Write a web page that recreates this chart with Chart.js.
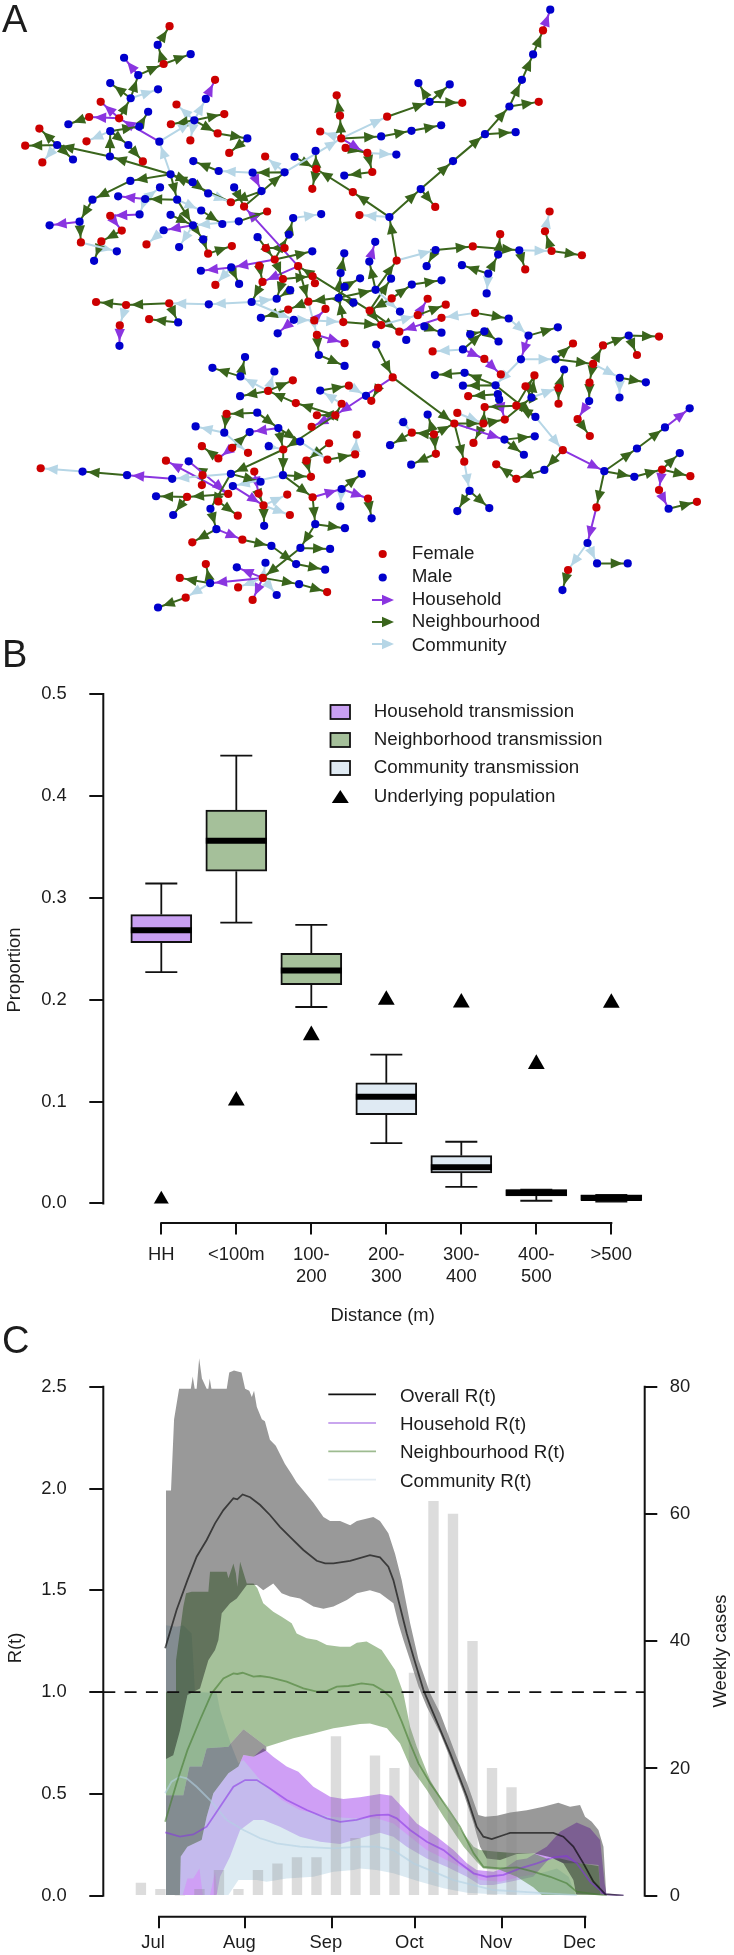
<!DOCTYPE html>
<html>
<head>
<meta charset="utf-8">
<title>Transmission tree, distance and R(t)</title>
<script src="https://cdn.jsdelivr.net/npm/chart.js@4"></script>
<style>
  html, body { margin: 0; background: #fff; }
  canvas { position: absolute; left: 0; }
</style>
</head>
<body>
<canvas id="panelA" width="734" height="660" style="top:0px"></canvas>
<canvas id="panelB" width="734" height="705" style="top:630px"></canvas>
<canvas id="panelC" width="734" height="655" style="top:1300px"></canvas>
<script>
// ---- panel A: transmission tree, in map units ----
const femaleNodes = [
  [502,67],[484,182],[640,230],[293,297],[523,305],[668,334],[258,343],[349,347],[506,365],[648,393],[107,378],[250,417],
  [565,414],[64,430],[116,481],[683,452],[421,478],[792,463],[1009,277],[1019,339],[959,387],[1023,408],[1036,437],[947,501],
  [935,561],[1058,571],[1078,641],[688,602],[728,615],[798,630],[322,643],[357,688],[295,721],[233,724],[432,730],[619,758],
  [691,735],[794,741],[851,741],[821,776],[774,795],[892,796],[846,835],[784,844],[641,853],[936,827],[943,848],[862,928],
  [923,904],[975,926],[941,961],[1029,966],[279,905],[370,914],[501,909],[351,976],[440,957],
  [1635,80],[1162,342],[1390,300],[1622,297],[1102,452],[1117,510],[1308,616],[1655,630],[1641,690],[1505,699],[1422,736],
  [1661,750],[1753,763],[1191,779],[1581,806],[1176,894],[1285,895],[1340,913],[1255,945],[1327,953],[1429,938],[1109,931],[1144,975],
  [949,1005],[1033,1030],[876,1143],[801,1175],[1046,1159],[885,1212],[1024,1214],[949,1249],[1005,1249],[675,1245],[933,1284],
  [1070,1308],[986,1334],[847,1353],[600,1343],[692,1348],[740,1363],[650,1380],[1065,1368],[981,1384],[917,1387],[491,1387],
  [759,1420],[111,1410],[602,1431],[931,1436],[600,1461],[680,1488],[772,1487],[859,1490],[936,1498],[1104,1502],[555,1497],
  [650,1511],[787,1523],[709,1554],[867,1552],[723,1627],[571,1635],[612,1701],[533,1743],[785,1743],[710,1772],[980,1786],
  [551,1803],[754,1810],
  [1199,995],[1300,1055],[1457,1078],[1507,1125],[1179,1134],[1135,1166],[1114,1205],[1726,1031],[1817,1037],[1987,1010],
  [1920,1066],[1787,1093],[1776,1150],[1609,1128],[1582,1161],[1682,1166],[1682,1214],[1554,1220],[1458,1224],[1519,1262],
  [1375,1242],[1454,1274],[1366,1274],[1740,1261],[1777,1312],[1237,1302],[1304,1307],[1424,1333],[1310,1366],[1396,1390],
  [1695,1355],[1493,1398],[1554,1442],[1996,1414],[2082,1434],[1987,1476],[2102,1512],[1797,1529],[1711,1719],[1408,1191]
];
const maleNodes = [
  [466,124],[566,152],[364,163],[407,216],[322,240],[467,259],[384,286],[612,288],[437,327],[195,365],[577,353],[410,372],
  [322,386],[738,408],[471,418],[377,428],[161,428],[321,463],[209,472],[574,477],[651,507],[505,517],[754,512],[851,511],
  [881,464],[945,446],[1032,521],[572,541],[383,537],[473,557],[698,557],[781,568],[619,575],[346,584],[428,592],[525,594],
  [268,594],[598,627],[411,639],[505,640],[712,660],[662,668],[573,672],[877,650],[962,638],[229,661],[138,672],[484,687],
  [864,700],[769,708],[604,715],[342,751],[531,738],[273,780],[935,751],[1032,757],[597,810],[689,800],[713,850],[1021,817],
  [1080,833],[1033,859],[868,869],[827,895],[1015,892],[1060,907],[751,905],[621,912],[779,953],[879,959],[528,967],
  [1657,17],[1605,153],[1571,230],[1257,240],[1352,244],[1291,297],[1533,311],[1326,368],[1236,385],[1144,402],[1459,395],
  [1552,389],[1190,457],[1362,477],[1264,562],[1169,647],[1126,722],[1108,782],[1309,747],[1563,748],[1499,761],[1282,796],
  [1389,793],[1469,819],[1464,879],[1174,834],[1237,852],[1327,839],[1127,868],[1201,934],[1275,979],[1531,955],[1680,982],
  [350,1038],[830,1000],[731,1072],[632,1105],[717,1131],[820,1116],[716,1191],[955,1066],[1033,1099],[959,1174],[1098,1190],
  [768,1241],[581,1283],[668,1302],[745,1300],[832,1288],[803,1343],[898,1329],[560,1389],[238,1420],[373,1431],[510,1442],
  [688,1427],[846,1431],[694,1464],[778,1451],[1085,1427],[1024,1473],[1020,1526],[461,1495],[513,1552],[626,1533],[789,1585],
  [944,1580],[1034,1592],[644,1595],[899,1652],[989,1655],[811,1646],[886,1701],[974,1718],[793,1697],[706,1711],[625,1759],
  [895,1762],[827,1795],[467,1833],
  [1129,1034],[1220,1020],[1327,998],[1414,1003],[1457,994],[1500,1025],[1591,1007],[1895,1007],[1392,1049],[1568,1079],
  [1673,1079],[1699,1110],[1868,1135],[1947,1149],[1867,1195],[1775,1206],[1307,1127],[1397,1120],[1392,1159],[1491,1158],
  [1498,1185],[1502,1201],[1600,1195],[1612,1254],[1285,1247],[1211,1270],[1171,1340],[1235,1399],[1518,1323],[1610,1313],
  [1577,1369],[1639,1415],[1412,1479],[1375,1540],[1472,1531],[2080,1228],[2005,1286],[1920,1350],[1821,1419],[1912,1436],
  [2050,1364],[2016,1533],[1770,1637],[1799,1699],[1892,1699],[1694,1780],[1115,1562]
];
const householdLinks = [
  [407,216,364,163],[349,347,293,297],[349,347,258,343],[471,418,349,347],[612,288,640,230],[229,661,138,672],[411,639,322,643],
  [322,643,357,688],[428,592,346,584],[573,672,484,687],[754,512,781,568],[821,776,689,800],[689,800,597,810],[892,796,784,844],
  [892,796,728,615],[941,961,975,926],[879,959,830,1000],[1023,408,1095,451],[351,976,350,1038],
  [1635,80,1657,17],[1108,782,1126,722],[1255,945,1285,895],[1327,953,1199,995],
  [949,1005,1033,1030],[1179,1134,1005,1249],[1005,1249,933,1284],[832,1288,745,1300],[692,1348,650,1380],[936,1498,1024,1473],
  [1024,1473,1104,1502],[644,1595,723,1627],[680,1488,491,1387],[560,1389,680,1488],[694,1464,787,1523],[510,1442,373,1431],
  [759,1420,772,1487],[785,1743,625,1759],[785,1743,706,1711],[785,1743,754,1810],
  [1392,1049,1457,1078],[1457,1078,1507,1125],[1591,1007,1568,1079],[1502,1201,1519,1262],[1775,1206,1740,1261],[1695,1355,1821,1419],
  [2005,1286,2080,1228],[1996,1414,1987,1476],[1987,1476,2016,1533],[1797,1529,1770,1637],[1366,1274,1518,1323]
];
const neighbourhoodLinks = [
  [484,182,466,124],[466,124,502,67],[407,216,484,182],[484,182,566,152],[384,286,407,216],[384,286,322,240],[349,347,384,286],
  [258,343,195,365],[410,372,437,327],[322,386,410,372],[321,463,322,386],[322,386,377,428],[377,428,421,478],[505,517,321,463],
  [321,463,161,428],[161,428,107,378],[161,428,64,430],[161,428,209,472],[577,353,668,334],[577,353,506,365],[577,353,648,393],
  [648,393,738,408],[738,408,683,452],[505,517,383,537],[383,537,268,594],[268,594,229,661],[229,661,233,724],[295,721,273,780],
  [357,688,295,721],[505,517,525,594],[525,594,428,592],[525,594,573,672],[598,627,662,668],[505,640,573,672],[573,672,604,715],
  [604,715,619,758],[619,758,691,735],[712,660,798,630],[505,517,572,541],[572,541,619,575],[688,602,505,517],[781,568,688,602],
  [698,557,728,615],[728,615,851,511],[851,511,754,512],[651,507,574,477],[1023,408,1019,339],[1019,339,1009,277],[1023,408,1144,402],
  [1036,437,1095,451],[881,464,947,501],[947,501,945,446],[947,501,935,561],[1058,571,947,501],[1169,647,1058,571],[1117,510,1032,521],
  [821,776,864,700],[864,700,877,650],[821,776,935,751],[769,708,821,776],[851,741,794,741],[689,800,713,850],[821,776,846,835],
  [774,795,784,844],[846,835,936,827],[784,844,751,905],[846,835,827,895],[892,796,923,904],[923,904,862,928],[1015,892,923,904],
  [1109,931,892,796],[868,869,827,895],[862,928,779,953],[501,909,370,914],[370,914,279,905],[501,909,528,967],[528,967,440,957],
  [1015,892,1021,817],[1021,817,1032,757],[1033,859,1080,833],[1015,892,1033,859],[1029,966,1015,892],[1029,966,1144,975],[1060,907,1015,892],
  [1015,892,1127,868],
  [1144,402,1236,385],[1236,385,1326,368],[1162,342,1291,297],[1291,297,1257,240],[1291,297,1352,244],[1291,297,1390,300],[1102,452,1117,510],
  [1169,647,1264,562],[1264,562,1362,477],[1362,477,1459,395],[1459,395,1533,311],[1533,311,1571,230],[1571,230,1605,153],[1605,153,1635,80],
  [1264,562,1308,616],[1459,395,1552,389],[1533,311,1622,297],[1191,779,1169,647],[1309,747,1282,796],[1309,747,1422,736],[1422,736,1563,748],
  [1499,761,1505,699],[1469,819,1499,761],[1469,819,1389,793],[1563,748,1581,806],[1661,750,1753,763],[1661,750,1641,690],[1127,868,1108,782],
  [1127,868,1191,779],[1109,931,1174,834],[1176,894,1109,931],[1176,894,1237,852],[1237,852,1327,839],[1255,945,1340,913],[1429,938,1531,955],
  [1109,931,1199,995],[1109,931,1144,975],[1275,979,1327,998],
  [717,1131,632,1105],[717,1131,731,1072],[801,1175,876,1143],[801,1175,716,1191],[885,1212,801,1175],[1005,1249,885,1212],[1005,1249,1024,1214],
  [1005,1249,949,1249],[955,1066,1033,1099],[949,1005,955,1066],[959,1174,1046,1159],[1005,1249,847,1353],[847,1353,688,1427],[847,1353,846,1431],
  [832,1288,847,1353],[768,1241,675,1245],[675,1245,668,1302],[768,1241,832,1288],[832,1288,898,1329],[981,1384,1065,1368],[986,1334,917,1387],
  [917,1387,931,1436],[846,1431,931,1436],[846,1431,936,1498],[692,1348,745,1300],[650,1380,600,1343],[1024,1473,1085,1427],[936,1498,944,1580],
  [944,1580,1034,1592],[944,1580,899,1652],[899,1652,989,1655],[899,1652,785,1743],[723,1627,811,1646],[811,1646,886,1701],[886,1701,974,1718],
  [644,1595,571,1635],[626,1533,644,1595],[373,1431,238,1420],[688,1427,778,1451],[688,1427,626,1533],[772,1487,787,1523],[787,1523,789,1585],
  [680,1488,555,1497],[555,1497,461,1495],[555,1497,513,1552],[602,1431,600,1461],[650,1511,709,1554],[625,1759,533,1743],[625,1759,612,1701],
  [551,1803,467,1833],[785,1743,895,1762],[895,1762,980,1786],
  [1129,1034,1179,1134],[1179,1134,1366,1274],[1135,1166,1114,1205],[1397,1120,1307,1127],[1491,1158,1392,1159],[1491,1158,1397,1120],
  [1498,1185,1408,1191],[1591,1007,1680,982],[1673,1079,1787,1093],[1787,1093,1817,1037],[1817,1037,1895,1007],[1895,1007,1987,1010],
  [1895,1007,1920,1066],[1673,1079,1726,1031],[1868,1135,1947,1149],[1787,1093,1776,1150],[1776,1150,1775,1206],[1740,1261,1777,1312],
  [1682,1166,1699,1110],[1682,1166,1682,1214],[1600,1195,1609,1128],[1600,1195,1582,1161],[1554,1220,1609,1128],[1554,1220,1458,1224],
  [1519,1262,1600,1195],[1491,1158,1612,1254],[1612,1254,1554,1220],[1695,1355,1639,1415],[1639,1415,1554,1442],[1554,1442,1493,1398],
  [1821,1419,1920,1350],[1920,1350,2005,1286],[1821,1419,1912,1436],[1912,1436,1996,1414],[1996,1414,2050,1364],[1996,1414,2082,1434],
  [2016,1533,2102,1512],[1821,1419,1797,1529],[1799,1699,1892,1699],[1711,1719,1694,1780],[1366,1274,1396,1390],[1412,1479,1375,1540],
  [1412,1479,1472,1531],[1518,1323,1610,1313],[1518,1323,1577,1369],[1366,1274,1454,1274],[1454,1274,1519,1262],[1454,1274,1424,1333],
  [1454,1274,1458,1224],[1304,1307,1285,1247],[1304,1307,1366,1274],[1237,1302,1171,1340],[1304,1307,1237,1302],[1304,1307,1310,1366],
  [1310,1366,1235,1399],[1392,1049,1457,994],[1414,1003,1457,994],[1457,994,1500,1025],[1104,1502,1115,1562]
];
const communityLinks = [
  [384,286,467,259],[322,386,250,417],[161,428,116,481],[505,517,471,418],[471,418,577,353],[577,353,523,305],[577,353,612,288],
  [577,353,565,414],[233,724,342,751],[428,592,473,557],[428,592,411,639],[525,594,598,627],[484,687,432,730],[573,672,531,738],
  [712,660,573,672],[619,575,688,602],[754,512,651,507],[851,511,792,463],[851,511,1023,408],[1023,408,959,387],[1023,408,1162,342],
  [877,650,962,638],[689,800,641,853],[751,905,827,895],[751,905,621,912],[621,912,501,909],[370,914,351,976],[941,961,1029,966],
  [879,959,941,961],[751,905,879,959],[923,904,949,1005],
  [1102,452,1190,457],[1169,647,1078,641],[1191,779,1309,747],[1469,819,1464,879],[1563,748,1661,750],[1641,690,1655,630],[1127,868,1201,934],
  [1429,938,1327,953],[1531,955,1591,1007],[1144,975,1255,945],
  [801,1175,717,1131],[801,1175,820,1116],[1024,1214,959,1174],[1046,1159,1098,1190],[898,1329,981,1384],[1065,1368,1070,1308],
  [846,1431,694,1464],[668,1302,581,1283],[668,1302,740,1363],[803,1343,847,1353],[688,1427,510,1442],[238,1420,111,1410],[1024,1473,1020,1526],
  [787,1523,859,1490],[787,1523,867,1552],[625,1759,551,1803],[785,1743,793,1697],[785,1743,710,1772],[785,1743,827,1795],
  [1392,1049,1300,1055],[1568,1079,1491,1158],[1568,1079,1673,1079],[1787,1093,1868,1135],[1868,1135,1867,1195],[1600,1195,1682,1166],
  [1612,1254,1695,1355],[1770,1637,1711,1719],[1770,1637,1799,1699],[1396,1390,1412,1479],[1375,1242,1454,1274],[1211,1270,1237,1302]
];

// ---- panel B: share of pairs by distance ----
const distanceLabels = ['HH', '<100m', ['100-', '200'], ['200-', '300'], ['300-', '400'], ['400-', '500'], '>500'];
const boxLower = [0.256, 0.326, 0.2147, 0.0872, 0.0298, 0.0074, 0.0031];
const boxUpper = [0.2835, 0.386, 0.2454, 0.1183, 0.0469, 0.0136, 0.0083];
const boxMedian = [0.268, 0.356, 0.2287, 0.1047, 0.0355, 0.0105, 0.0053];
const whiskerLow = [0.227, 0.2756, 0.1928, 0.0592, 0.0162, 0.0026, 0.0018];
const whiskerHigh = [0.314, 0.4395, 0.2734, 0.146, 0.0605, 0.0136, 0.0083];
const populationShare = [0.003, 0.1008, 0.165, 0.1997, 0.197, 0.1368, 0.1967];
const boxRoute = ['household', 'neighbourhood', 'neighbourhood', 'community', 'community', 'community', 'community'];

// ---- panel C: R(t) by day since 1 July, [day, R] ----
const monthDays = [0, 31, 62, 92, 123, 153];
const monthLabels = ['Jul', 'Aug', 'Sep', 'Oct', 'Nov', 'Dec'];
const weekDays = [-6.5, 0.5, 7.5, 14.5, 21.5, 28.5, 35.5, 42.5, 49.5, 56.5, 63.5, 70.5, 77.5, 84.5, 91.5, 98.5, 105.5, 112.5, 119.5, 126.5];
const weeklyCases = [2, 1, 0, 1, 4, 1, 4, 5, 6, 6, 25, 9, 22, 20, 35, 62, 60, 40, 20, 17];
const thresholdLine = [[-20, 1], [174.3, 1]];

const overallUpper = [[2.5,1.99],[4.3,1.99],[5.4,2.34],[7.2,2.49],[11.4,2.49],[12.1,2.55],[12.8,2.49],[13.5,2.49],[14.4,2.64],[15.4,2.54],[17.1,2.49],[17.7,2.49],[18.2,2.54],[18.8,2.49],[24.3,2.49],[25.2,2.57],[26.9,2.58],[29.6,2.57],[30.9,2.49],[32.4,2.48],[33.3,2.45],[34.1,2.48],[35.1,2.40],[36.9,2.34],[38,2.33],[39.8,2.24],[41.9,2.21],[45.2,2.12],[47.6,2.07],[49.4,2.03],[51.8,1.99],[55.4,1.93],[59,1.86],[61.4,1.84],[65,1.84],[68.6,1.82],[71,1.84],[76.9,1.86],[79.3,1.84],[82.3,1.78],[84.7,1.68],[87.1,1.55],[90.1,1.34],[93.1,1.16],[97.3,0.994],[100.9,0.896],[106.8,0.683],[110.4,0.56],[114.6,0.396],[117,0.388],[121.2,0.393],[126,0.409],[132,0.42],[137.9,0.437],[143.3,0.457],[147.5,0.437],[151.1,0.445],[152.9,0.388],[155.3,0.363],[157.7,0.323],[159.5,0.24],[160.5,0.003]];
const overallLower = [[2.5,0.671],[5.1,0.69],[7.5,0.81],[10.2,0.986],[14.7,1.018],[17.7,1.157],[20.1,1.207],[21.3,1.256],[22.5,1.387],[25.5,1.436],[27.9,1.46],[31.5,1.526],[35.1,1.526],[37.4,1.5],[41,1.534],[44,1.485],[47,1.469],[50.6,1.46],[55.4,1.42],[59,1.41],[62.6,1.42],[67.4,1.452],[71,1.485],[75.7,1.5],[79.3,1.485],[84.1,1.436],[85.9,1.337],[87.7,1.256],[90.1,1.157],[93.1,1.027],[96.1,0.928],[100.9,0.797],[105,0.658],[109.3,0.503],[112.9,0.355],[115.2,0.24],[117.6,0.183],[122.4,0.175],[128.4,0.205],[134.3,0.208],[140.9,0.188],[145.1,0.159],[148.7,0.077],[149.7,0.007],[160.5,0.003]];
const overallMedian = [[2.2,1.215],[6.3,1.403],[10.2,1.55],[13.5,1.665],[17.1,1.747],[20.1,1.829],[23.1,1.894],[26.7,1.952],[28.1,1.947],[30,1.971],[32.7,1.957],[36.3,1.919],[39.8,1.87],[43.4,1.812],[47,1.763],[51.8,1.698],[56.6,1.645],[59.6,1.632],[62.6,1.632],[68.6,1.645],[75.7,1.673],[79.3,1.662],[82.3,1.616],[84.1,1.55],[86.5,1.419],[88.9,1.288],[91.3,1.174],[94.9,1.01],[99.7,0.855],[104.5,0.699],[110.5,0.486],[114,0.339],[116.4,0.29],[119.4,0.278],[124.8,0.303],[126,0.309],[132,0.309],[141.5,0.309],[145.1,0.29],[148.7,0.241],[152.3,0.159],[155.9,0.069],[160.1,0.008],[166.7,0]];
// second grey patch of the overall band, sits below the neighbourhood band early on
const overallEarlyUpper = [[2.5,0.494],[8.7,0.494],[10.9,0.634],[15.3,0.634],[17.1,0.724],[24.9,0.732],[25.7,0.748],[30.3,0.817],[33.9,0.781],[38.6,0.732]];
const overallEarlyLower = [[2.5,0.003],[7.5,0.003],[7.8,0.192],[10.2,0.241],[15.3,0.273],[17.1,0.388],[19.5,0.503],[24.9,0.601],[28.5,0.634],[30.3,0.691],[33.9,0.683],[38.6,0.715]];

const neighbourhoodUpper = [[2.5,1.002],[6.1,1.002],[6.1,1.157],[8.7,1.419],[9.7,1.485],[11.7,1.493],[17.7,1.493],[18.3,1.591],[24.3,1.591],[24.9,1.559],[26.7,1.632],[27.6,1.583],[28.1,1.518],[29.1,1.64],[31.5,1.534],[33.9,1.534],[35.3,1.51],[37.4,1.436],[41,1.395],[44,1.37],[47.6,1.338],[49.4,1.288],[53,1.264],[56.6,1.256],[60.2,1.231],[65,1.223],[68.6,1.223],[71,1.243],[74.5,1.248],[79.9,1.207],[84.7,1.108],[87.7,0.994],[90.1,0.83],[92.5,0.732],[97.3,0.568],[104.5,0.404],[109.3,0.306],[112.9,0.241],[115.2,0.224],[121.2,0.216],[128.4,0.208],[134.3,0.208],[139.1,0.183],[143.9,0.183],[151.1,0.159],[157.7,0.146],[158.5,0.007]];
const neighbourhoodLower = [[2.5,0.494],[8.7,0.494],[10.9,0.634],[15.3,0.634],[17.1,0.724],[24.9,0.732],[25.7,0.748],[30.3,0.817],[33.9,0.781],[38.6,0.732],[48.2,0.773],[55.4,0.797],[62.6,0.822],[65,0.827],[72.1,0.843],[75.7,0.846],[81.8,0.822],[86.5,0.748],[90.1,0.634],[96.1,0.519],[102.1,0.388],[109.3,0.241],[114,0.167],[116.4,0.134],[122.4,0.126],[128.4,0.093],[134.3,0.041],[137.4,0.003],[158.5,0.003]];
const neighbourhoodMedian = [[2.2,0.363],[6.3,0.552],[10.2,0.715],[14.7,0.863],[18.9,0.994],[23.1,1.067],[26.7,1.092],[28.1,1.089],[30,1.095],[33.9,1.076],[36.3,1.079],[39.8,1.072],[45.8,1.051],[51.8,1.018],[56.6,1.002],[60.2,1.005],[63.8,1.027],[68,1.03],[72.7,1.043],[76.9,1.035],[80.5,1.007],[83.5,0.969],[87.1,0.855],[90.1,0.748],[93.1,0.65],[97.3,0.552],[103.2,0.437],[108,0.339],[112.9,0.208],[116.4,0.142],[122.4,0.134],[128.4,0.139],[134.3,0.118],[140.4,0.093],[146.3,0.061],[149.9,0.02],[160.7,0]];

const householdUpper = [[7.5,0.003],[7.8,0.192],[10.2,0.241],[15.3,0.273],[17.1,0.388],[19.5,0.503],[24.9,0.601],[28.5,0.634],[30.3,0.691],[33.9,0.683],[37.4,0.724],[41,0.683],[45.8,0.634],[50,0.609],[55.4,0.535],[61.4,0.486],[66.2,0.475],[72.1,0.483],[79.3,0.5],[83.5,0.491],[87.7,0.429],[92.5,0.355],[99.7,0.29],[105.7,0.224],[110.5,0.159],[114,0.126],[120,0.118],[124.8,0.142],[128.4,0.175],[132,0.183],[139.1,0.241],[143.9,0.314],[149.9,0.359],[154.7,0.331],[158.3,0.273],[159.9,0.061],[160.7,0.003]];
const householdLower = [[7.5,0.003],[20.7,0.003],[21.9,0.093],[25.5,0.192],[29.1,0.323],[33.9,0.372],[37.4,0.372],[43.4,0.339],[50.6,0.29],[57.8,0.265],[65,0.254],[72.1,0.282],[79.3,0.309],[84.1,0.29],[88.9,0.241],[96.1,0.183],[103.2,0.142],[110.5,0.093],[115.2,0.052],[120,0.052],[126,0.069],[134.3,0.093],[140.4,0.188],[145.1,0.159],[151.1,0.159],[157.7,0.151],[158.5,0.007],[160.7,0.003]];
const householdMedian = [[2.2,0.311],[7.5,0.29],[12.3,0.301],[17.1,0.339],[21.9,0.437],[26.7,0.535],[30.9,0.568],[35.1,0.568],[39.8,0.527],[45.8,0.47],[53,0.421],[60.2,0.38],[65,0.363],[70.9,0.372],[75.7,0.391],[78.1,0.396],[82.3,0.398],[85.3,0.38],[90.1,0.323],[96.1,0.265],[102.1,0.224],[108,0.159],[112.9,0.11],[117.6,0.093],[123.6,0.102],[129.6,0.134],[135.6,0.159],[141.5,0.188],[146.3,0.195],[149.9,0.159],[154.7,0.069],[160.1,0.007],[166.7,0]];

const communityUpper = [[2.5,1.329],[6.3,1.321],[8.7,1.329],[11.7,1.288],[12.3,1.157],[12.9,1.002],[20.7,0.994],[21.9,0.912],[25.7,0.748],[28.5,0.65],[30.3,0.666],[36.3,0.568],[44,0.47],[50.6,0.421],[61.4,0.388],[69.8,0.38],[78.1,0.38],[84.1,0.355],[90.1,0.29],[96.1,0.224],[103.2,0.175],[110.5,0.126],[115.2,0.077],[122.4,0.069],[129.6,0.093],[136.8,0.11],[142.8,0.134],[147,0.093],[149.4,0.007]];
const communityLower = [[2.5,0.003],[8.5,0.003],[10.2,0.085],[12.3,0.085],[14.5,0.134],[15.7,0.003],[18.3,0.003],[20.1,0.118],[20.9,0.003],[24.9,0.003],[28.5,0.077],[35.1,0.077],[38.6,0.069],[45.8,0.085],[55.4,0.093],[62.6,0.118],[69.8,0.126],[72.1,0.134],[78.1,0.126],[84.1,0.11],[93.7,0.069],[102.1,0.036],[110.5,0.015],[120,0.007],[132,0.003],[149.4,0.003]];
const communityMedian = [[2.2,0.503],[4.5,0.56],[7.5,0.585],[9.9,0.576],[13.5,0.535],[18.3,0.47],[24.3,0.372],[30.3,0.323],[36.3,0.282],[42.2,0.257],[50.6,0.241],[62.6,0.232],[72.1,0.241],[78.1,0.241],[84.1,0.224],[91.3,0.159],[98.5,0.118],[105.7,0.077],[112.9,0.052],[120,0.028],[129.6,0.02],[139.1,0.011],[149.9,0.003]];

// ---- shared styling ----
const FONT = '18.4px "Liberation Sans", Arial, sans-serif';
const LEGEND_FONT = '18.8px "Liberation Sans", Arial, sans-serif';
const tickFont = { family: '"Liberation Sans", Arial, sans-serif', size: 18.4 };
const INK = '#1c1c1c';
const routeColour = { household: '#8a35e0', neighbourhood: '#3a651c', community: '#b6d6e6' };
const boxFill = { household: '#c9a0f2', neighbourhood: '#a5c09a', community: '#dfeaf3' };
const bandFill = {
  overall: 'rgba(0,0,0,0.4)',
  household: 'rgba(160,64,235,0.5)',
  neighbourhood: 'rgba(75,131,53,0.5)',
  community: 'rgba(185,213,229,0.5)'
};
const lineStroke = {
  overall: 'rgba(0,0,0,0.62)',
  household: 'rgba(135,50,230,0.55)',
  neighbourhood: 'rgba(70,125,50,0.6)',
  community: 'rgba(178,208,226,0.6)'
};
const toPoints = pairs => pairs.map(([x, y]) => ({ x, y }));

Chart.defaults.animation = false;
Chart.defaults.responsive = false;
Chart.defaults.events = [];
Chart.defaults.plugins.legend.display = false;
Chart.defaults.plugins.tooltip.enabled = false;

// text and marks placed in page pixels, so panels can share one reference frame
function pageCtx(chart) {
  const ctx = chart.ctx;
  ctx.save();
  ctx.translate(0, -chart.canvas.offsetTop);
  return ctx;
}
function pageText(ctx, text, x, y, opts = {}) {
  ctx.save();
  ctx.font = opts.font || FONT;
  ctx.fillStyle = opts.color || INK;
  ctx.textAlign = opts.align || 'left';
  ctx.textBaseline = opts.baseline || 'middle';
  ctx.translate(x, y);
  if (opts.rotate) ctx.rotate(opts.rotate);
  ctx.fillText(text, 0, 0);
  ctx.restore();
}
function strokeSegment(ctx, x1, y1, x2, y2, colour, width) {
  ctx.strokeStyle = colour;
  ctx.lineWidth = width;
  ctx.beginPath();
  ctx.moveTo(x1, y1);
  ctx.lineTo(x2, y2);
  ctx.stroke();
}
function arrowHead(ctx, x1, y1, x2, y2, colour, length, halfWidth) {
  const a = Math.atan2(y2 - y1, x2 - x1);
  const bx = x2 - Math.cos(a) * length, by = y2 - Math.sin(a) * length;
  ctx.fillStyle = colour;
  ctx.beginPath();
  ctx.moveTo(x2, y2);
  ctx.lineTo(bx - Math.sin(a) * halfWidth, by + Math.cos(a) * halfWidth);
  ctx.lineTo(bx + Math.sin(a) * halfWidth, by - Math.cos(a) * halfWidth);
  ctx.closePath();
  ctx.fill();
}

// R draws its axis line only from the first tick to the last
const tickSpanAxes = {
  id: 'tickSpanAxes',
  afterDraw(chart) {
    const ctx = chart.ctx;
    ctx.save();
    ctx.lineCap = 'square';
    for (const scale of Object.values(chart.scales)) {
      if (!scale.options.display || !scale.ticks.length) continue;
      const first = scale.getPixelForValue(scale.ticks[0].value);
      const last = scale.getPixelForValue(scale.ticks[scale.ticks.length - 1].value);
      if (scale.isHorizontal()) {
        const y = chart.scales.y.getPixelForValue(scale.options.position.y);
        strokeSegment(ctx, first, y, last, y, '#111', 2);
      } else {
        const x = scale.options.position === 'left' ? scale.right : scale.left;
        strokeSegment(ctx, x, first, x, last, '#111', 2);
      }
    }
    ctx.restore();
  }
};

const hiddenAxis = { display: false };
const tickGrid = { display: true, drawOnChartArea: false, drawTicks: true, color: '#111', tickColor: '#111', tickWidth: 2, lineWidth: 2 };

// ---- panel A ----
function linkLine(links, colour) {
  return {
    type: 'line',
    data: links.flatMap(([x1, y1, x2, y2]) => [{ x: x1, y: y1 }, { x: x2, y: y2 }, { x: x2, y: null }]),
    borderColor: colour,
    borderWidth: 2,
    pointRadius: 0,
    spanGaps: false,
    order: 5
  };
}
const linkGroups = [
  [communityLinks, routeColour.community],
  [neighbourhoodLinks, routeColour.neighbourhood],
  [householdLinks, routeColour.household]
];
const arrowsAndLegendA = {
  id: 'arrowsAndLegendA',
  beforeDatasetsDraw(chart) {
    const { x, y } = chart.scales;
    const ctx = chart.ctx;
    for (const [links, colour] of linkGroups) {
      for (const [x1, y1, x2, y2] of links) {
        const px1 = x.getPixelForValue(x1), py1 = y.getPixelForValue(y1);
        const px2 = x.getPixelForValue(x2), py2 = y.getPixelForValue(y2);
        const a = Math.atan2(py2 - py1, px2 - px1);
        arrowHead(ctx, px1, py1, px2 - Math.cos(a) * 5, py2 - Math.sin(a) * 5, colour, 12, 5.2);
      }
    }
  },
  afterDraw(chart) {
    const ctx = pageCtx(chart);
    pageText(ctx, 'A', 2, 31.6, { font: '38px "Liberation Sans", Arial, sans-serif', baseline: 'alphabetic' });
    const rows = [['Female', 554], ['Male', 577], ['Household', 600], ['Neighbourhood', 622], ['Community', 645.5]];
    rows.forEach(([label, rowY]) => pageText(ctx, label, 411.7, rowY, { font: LEGEND_FONT }));
    ctx.fillStyle = '#cc0000';
    ctx.beginPath(); ctx.arc(382.7, 554, 4.1, 0, Math.PI * 2); ctx.fill();
    ctx.fillStyle = '#0000cc';
    ctx.beginPath(); ctx.arc(382.7, 577.5, 4.1, 0, Math.PI * 2); ctx.fill();
    [['household', 600], ['neighbourhood', 622], ['community', 644]].forEach(([route, rowY]) => {
      strokeSegment(ctx, 372, rowY, 386, rowY, routeColour[route], 2);
      arrowHead(ctx, 372, rowY, 394, rowY, routeColour[route], 12, 5.2);
    });
    ctx.restore();
  }
};
new Chart(document.getElementById('panelA'), {
  type: 'scatter',
  data: {
    datasets: [
      { data: toPoints(femaleNodes), backgroundColor: '#cc0000', pointRadius: 4.1, borderWidth: 0, order: 1 },
      { data: toPoints(maleNodes), backgroundColor: '#0000cc', pointRadius: 4.1, borderWidth: 0, order: 1 },
      ...linkGroups.map(([links, colour]) => linkLine(links, colour))
    ]
  },
  options: {
    layout: { padding: 0 },
    scales: {
      x: { ...hiddenAxis, min: 0, max: 2202 },
      y: { ...hiddenAxis, min: 0, max: 1980, reverse: true }
    }
  },
  plugins: [arrowsAndLegendA]
});

// ---- panel B ----
const whiskersAndLegendB = {
  id: 'whiskersAndLegendB',
  afterDatasetsDraw(chart) {
    const { x, y } = chart.scales;
    const ctx = chart.ctx;
    ctx.save();
    distanceLabels.forEach((_, i) => {
      const cx = x.getPixelForValue(i);
      strokeSegment(ctx, cx, y.getPixelForValue(boxUpper[i]), cx, y.getPixelForValue(whiskerHigh[i]), '#111', 1.8);
      strokeSegment(ctx, cx, y.getPixelForValue(boxLower[i]), cx, y.getPixelForValue(whiskerLow[i]), '#111', 1.8);
      strokeSegment(ctx, cx - 16, y.getPixelForValue(whiskerHigh[i]), cx + 16, y.getPixelForValue(whiskerHigh[i]), '#111', 1.8);
      strokeSegment(ctx, cx - 16, y.getPixelForValue(whiskerLow[i]), cx + 16, y.getPixelForValue(whiskerLow[i]), '#111', 1.8);
      strokeSegment(ctx, cx - 30.5, y.getPixelForValue(boxMedian[i]), cx + 30.5, y.getPixelForValue(boxMedian[i]), '#000', 6);
    });
    ctx.restore();
  },
  afterDraw(chart) {
    const ctx = pageCtx(chart);
    pageText(ctx, 'B', 2, 666.8, { font: '38px "Liberation Sans", Arial, sans-serif', baseline: 'alphabetic' });
    pageText(ctx, 'Proportion', 15, 970, { rotate: -Math.PI / 2, align: 'center' });
    pageText(ctx, 'Distance (m)', 382.7, 1316, { align: 'center' });
    const rows = [
      ['Household transmission', 712, boxFill.household],
      ['Neighborhood transmission', 740, boxFill.neighbourhood],
      ['Community transmission', 768, boxFill.community]
    ];
    rows.forEach(([label, rowY, fill]) => {
      pageText(ctx, label, 373.7, rowY, { font: LEGEND_FONT });
      ctx.fillStyle = fill;
      ctx.strokeStyle = '#111';
      ctx.lineWidth = 1.8;
      ctx.fillRect(330.5, rowY - 7, 19.5, 14);
      ctx.strokeRect(330.5, rowY - 7, 19.5, 14);
    });
    pageText(ctx, 'Underlying population', 373.7, 796.5, { font: LEGEND_FONT });
    ctx.fillStyle = '#000';
    ctx.beginPath();
    ctx.moveTo(340.3, 790); ctx.lineTo(348.8, 803); ctx.lineTo(331.8, 803); ctx.closePath();
    ctx.fill();
    ctx.restore();
  }
};
new Chart(document.getElementById('panelB'), {
  type: 'scatter',
  data: {
    datasets: [
      {
        data: distanceLabels.map((_, i) => ({ x: i, y: populationShare[i] })),
        pointStyle: 'triangle',
        pointRadius: 9.7,
        backgroundColor: '#000',
        borderWidth: 0,
        order: 1
      },
      {
        type: 'bar',
        data: distanceLabels.map((_, i) => ({ x: i, y: [boxLower[i], boxUpper[i]] })),
        backgroundColor: boxRoute.map(route => boxFill[route]),
        borderColor: '#111',
        borderWidth: 2,
        borderSkipped: false,
        barThickness: 61,
        grouped: false,
        order: 2
      }
    ]
  },
  options: {
    layout: { padding: { top: 64, bottom: 131.6, right: 86 } },
    scales: {
      x: {
        type: 'linear',
        position: { y: -0.01924 },
        min: -0.7733,
        max: 6.489,
        offset: false,
        border: { display: false },
        grid: { ...tickGrid, offset: false, tickLength: 11.6 },
        afterBuildTicks(scale) { scale.ticks = distanceLabels.map((_, i) => ({ value: i })); },
        ticks: {
          autoSkip: false,
          maxRotation: 0,
          padding: 9,
          color: INK,
          font: tickFont,
          callback: (value, i) => distanceLabels[i]
        }
      },
      y: {
        min: 0,
        max: 0.5,
        border: { display: false },
        grid: { ...tickGrid, tickLength: 14 },
        afterFit(scale) { scale.width = 103.3; },
        ticks: { stepSize: 0.1, padding: 22.6, color: INK, font: tickFont, callback: value => value.toFixed(1) }
      }
    }
  },
  plugins: [tickSpanAxes, whiskersAndLegendB]
});

// ---- panel C ----
function band(upper, lower, colour, order) {
  return [
    { type: 'line', data: toPoints(upper), fill: '+1', backgroundColor: colour, borderWidth: 0, pointRadius: 0, tension: 0, order },
    { type: 'line', data: toPoints(lower), fill: false, borderWidth: 0, pointRadius: 0, tension: 0, order }
  ];
}
function trend(points, colour) {
  return { type: 'line', data: toPoints(points), borderColor: colour, borderWidth: 1.8, pointRadius: 0, fill: false, tension: 0, order: 3 };
}
const legendC = {
  id: 'legendC',
  afterDraw(chart) {
    const ctx = pageCtx(chart);
    pageText(ctx, 'C', 2, 1353, { font: '38px "Liberation Sans", Arial, sans-serif', baseline: 'alphabetic' });
    pageText(ctx, 'R(t)', 16, 1648, { rotate: -Math.PI / 2, align: 'center' });
    pageText(ctx, 'Weekly cases', 721, 1651, { rotate: -Math.PI / 2, align: 'center' });
    const rows = [
      ['Overall R(t)', 1394.3, 1396.7, '#111'],
      ['Household R(t)', 1423, 1425, '#c9a6ee'],
      ['Neighbourhood R(t)', 1451.3, 1453.3, '#9dbb90'],
      ['Community R(t)', 1479.7, 1482, '#e3ecf3']
    ];
    rows.forEach(([label, lineY, textY, colour]) => {
      strokeSegment(ctx, 328.3, lineY, 376, lineY, colour, 1.8);
      pageText(ctx, label, 400, textY, { font: LEGEND_FONT });
    });
    ctx.restore();
  }
};
new Chart(document.getElementById('panelC'), {
  type: 'scatter',
  data: {
    datasets: [
      { type: 'line', data: toPoints(thresholdLine), borderColor: '#111', borderWidth: 1.8, borderDash: [12, 9.3], pointRadius: 0, fill: false, order: 1 },
      trend(overallMedian, lineStroke.overall),
      trend(neighbourhoodMedian, lineStroke.neighbourhood),
      trend(householdMedian, lineStroke.household),
      trend(communityMedian, lineStroke.community),
      {
        type: 'bar',
        yAxisID: 'y2',
        data: weekDays.map((day, i) => ({ x: day, y: weeklyCases[i] })),
        backgroundColor: 'rgba(128,128,128,0.28)',
        barThickness: 9.7,
        grouped: false,
        order: 4
      },
      ...band(overallUpper, overallLower, bandFill.overall, 5),
      ...band(overallEarlyUpper, overallEarlyLower, bandFill.overall, 5),
      ...band(neighbourhoodUpper, neighbourhoodLower, bandFill.neighbourhood, 6),
      ...band(communityUpper, communityLower, bandFill.community, 7),
      ...band(householdUpper, householdLower, bandFill.household, 8)
    ]
  },
  options: {
    layout: { padding: { top: 46, bottom: 59.3 } },
    scales: {
      x: {
        type: 'linear',
        position: { y: -0.1031 },
        min: -20,
        max: 174.3,
        offset: false,
        border: { display: false },
        grid: { ...tickGrid, offset: false, tickLength: 11.3 },
        afterBuildTicks(scale) { scale.ticks = monthDays.map(value => ({ value })); },
        ticks: {
          autoSkip: false,
          maxRotation: 0,
          padding: 4,
          labelOffset: -6,
          color: INK,
          font: tickFont,
          callback: (value, i) => monthLabels[i]
        }
      },
      y: {
        position: 'left',
        min: 0,
        max: 2.7,
        border: { display: false },
        grid: { ...tickGrid, tickLength: 14 },
        afterFit(scale) { scale.width = 103.3; },
        ticks: { stepSize: 0.5, includeBounds: false, padding: 22.6, color: INK, font: tickFont, callback: value => value.toFixed(1) }
      },
      y2: {
        position: 'right',
        min: 0,
        max: 86.4,
        border: { display: false },
        grid: { ...tickGrid, tickLength: 12.6 },
        afterFit(scale) { scale.width = 89.3; },
        ticks: { stepSize: 20, includeBounds: false, padding: 12.4, color: INK, font: tickFont }
      }
    }
  },
  plugins: [tickSpanAxes, legendC]
});
</script>
</body>
</html>
